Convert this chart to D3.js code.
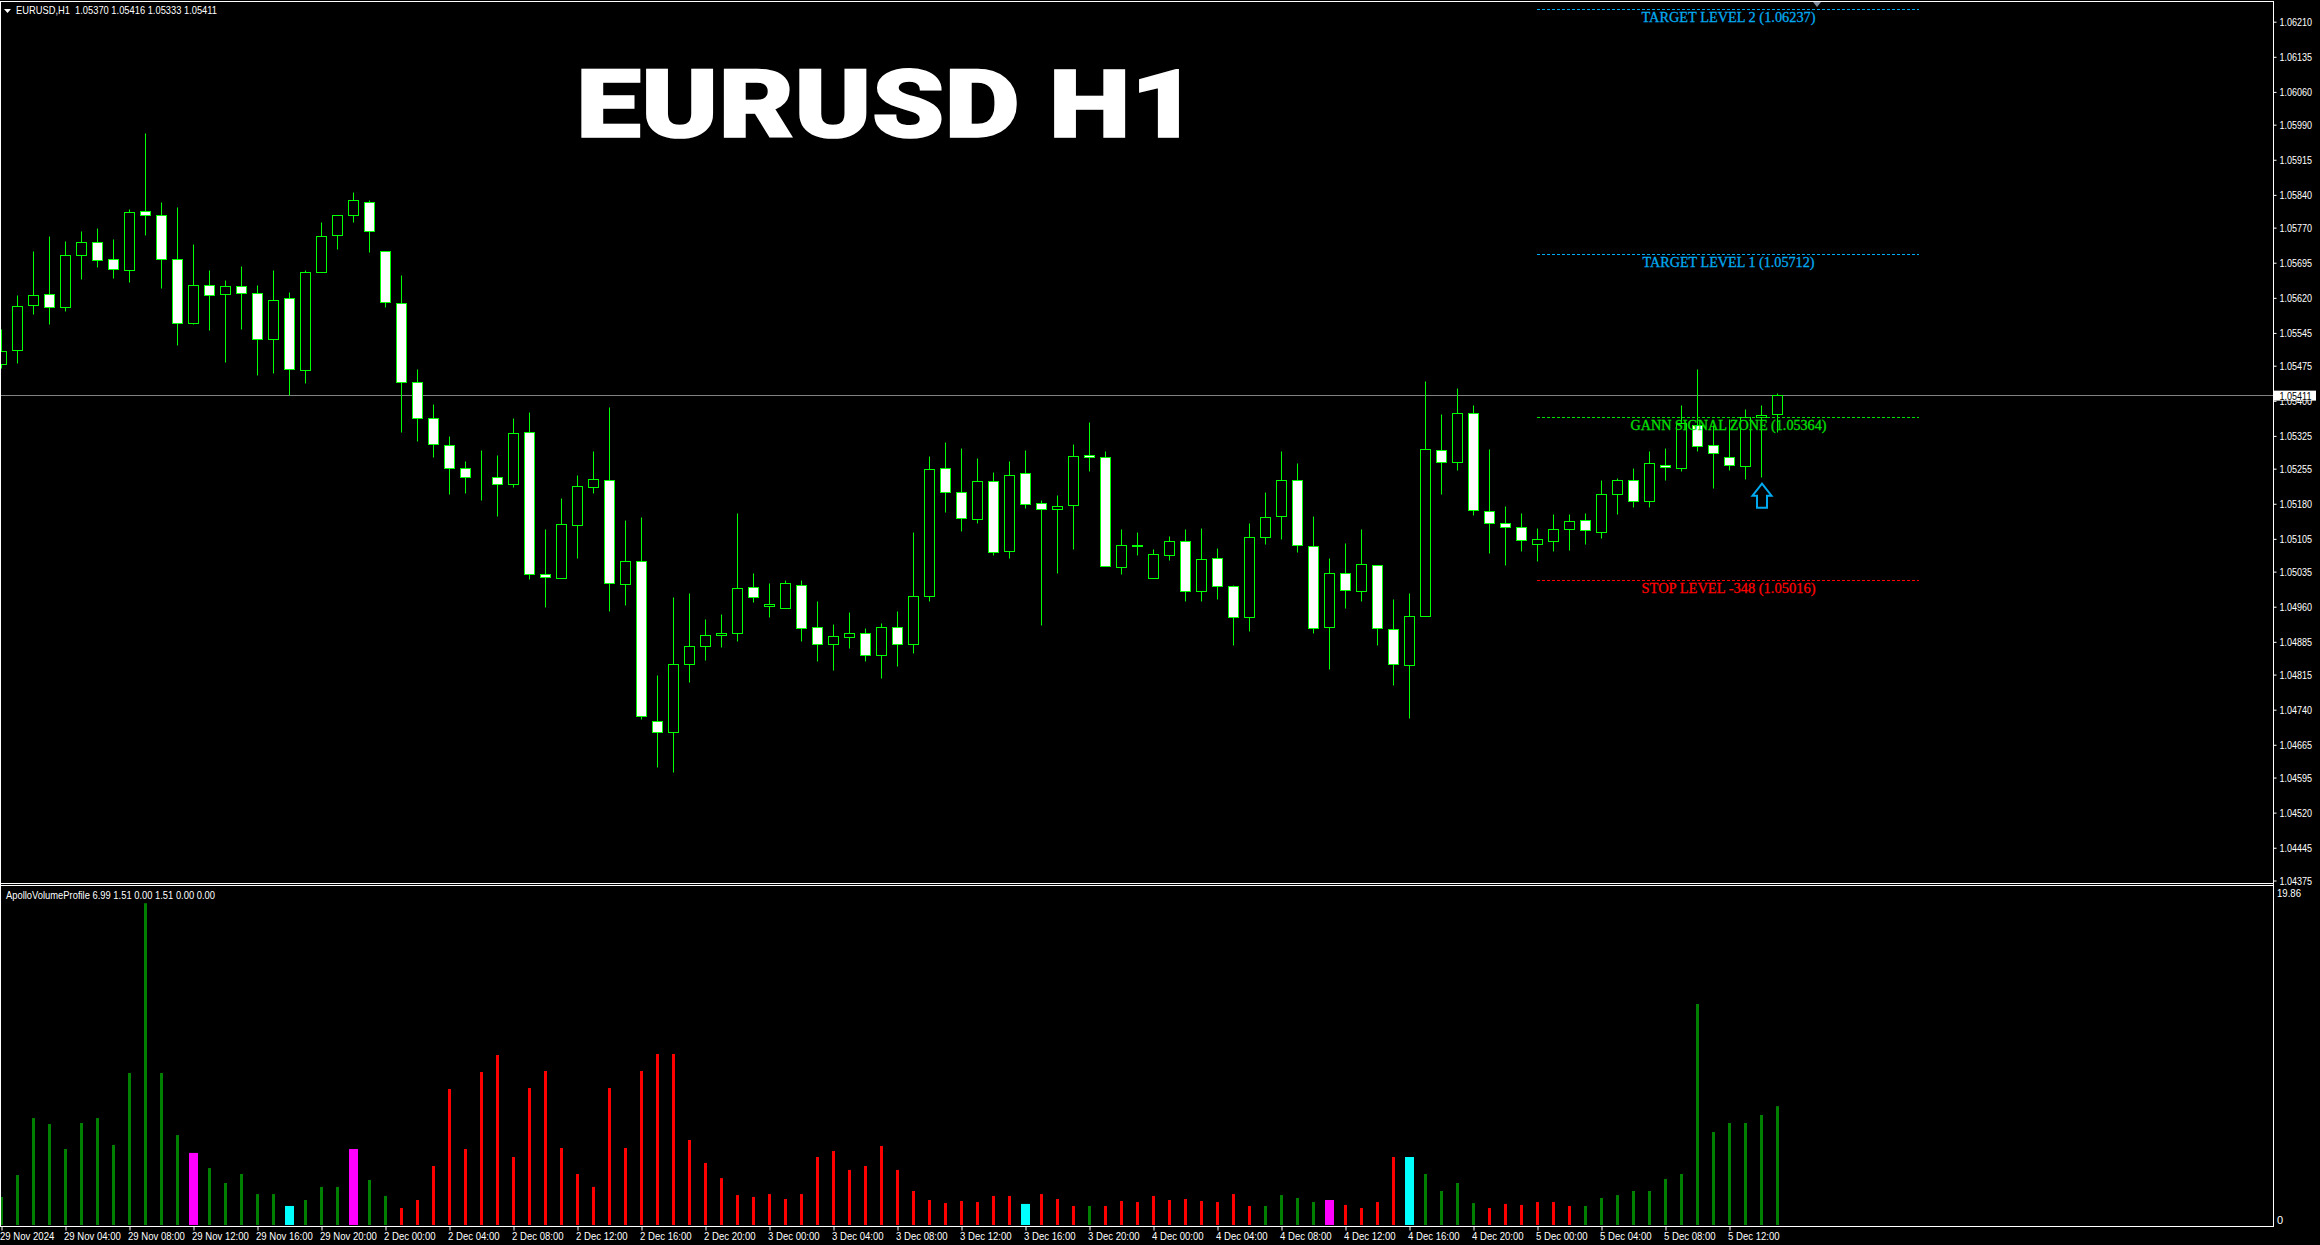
<!DOCTYPE html>
<html><head><meta charset="utf-8">
<script src="https://cdnjs.cloudflare.com/ajax/libs/d3/7.8.5/d3.min.js"></script>
<style>html,body{margin:0;padding:0;background:#000;overflow:hidden}svg{display:block}
.sm{font-family:"Liberation Sans",sans-serif;font-size:11px;fill:#fff}
.lvl{font-family:"Liberation Serif",serif;font-size:15px;stroke-width:.3px}
</style></head><body><svg id="c" width="2320" height="1245"></svg>
<script>
const opens=[1.05477,1.05507,1.05604,1.05627,1.05600,1.05710,1.05739,1.05702,1.05679,1.05805,1.05796,1.05702,1.05566,1.05647,1.05627,1.05645,
1.05630,1.05531,1.05619,1.05465,1.05674,1.05754,1.05796,1.05824,1.05719,1.05608,1.05439,1.05363,1.05305,1.05256,1.05234,1.05236,
1.05221,1.05333,1.05029,1.05020,1.05133,1.05214,1.05230,1.05007,1.05057,1.04715,1.04691,1.04836,1.04875,1.04898,1.04902,1.05001,
1.04960,1.04956,1.05006,1.04916,1.04879,1.04894,1.04903,1.04855,1.04916,1.04879,1.04981,1.05256,1.05204,1.05146,1.05228,1.05078,
1.05245,1.05181,1.05167,1.05176,1.05283,1.05279,1.05043,1.05091,1.05020,1.05069,1.05100,1.04992,1.05063,1.05004,1.04937,1.05108,
1.05152,1.05230,1.05089,1.04915,1.05031,1.04992,1.05048,1.04912,1.04834,1.04939,1.05294,1.05268,1.05373,1.05164,1.05138,1.05130,
1.05092,1.05100,1.05125,1.05145,1.05119,1.05200,1.05230,1.05185,1.05262,1.05256,1.05348,1.05305,1.05279,1.05259,1.05365,1.05370];
const closes=[1.05506,1.05602,1.05625,1.05600,1.05711,1.05739,1.05700,1.05681,1.05803,1.05796,1.05702,1.05566,1.05647,1.05625,1.05645,1.05630,
1.05531,1.05615,1.05467,1.05674,1.05751,1.05796,1.05828,1.05762,1.05610,1.05439,1.05362,1.05306,1.05255,1.05236,1.05233,1.05221,
1.05330,1.05028,1.05022,1.05136,1.05217,1.05232,1.05009,1.05057,1.04725,1.04691,1.04837,1.04875,1.04899,1.04903,1.04999,1.04979,
1.04965,1.05010,1.04913,1.04879,1.04897,1.04903,1.04855,1.04916,1.04879,1.04982,1.05254,1.05204,1.05148,1.05228,1.05075,1.05241,
1.05178,1.05167,1.05174,1.05281,1.05278,1.05046,1.05091,1.05088,1.05072,1.05100,1.04992,1.05061,1.05003,1.04937,1.05108,1.05151,
1.05230,1.05090,1.04913,1.05031,1.04994,1.05051,1.04913,1.04836,1.04939,1.05296,1.05268,1.05373,1.05165,1.05137,1.05129,1.05101,
1.05104,1.05125,1.05142,1.05123,1.05200,1.05230,1.05185,1.05266,1.05258,1.05352,1.05303,1.05288,1.05262,1.05365,1.05369,1.05411];
const highs=[1.05553,1.05624,1.05720,1.05750,1.05741,1.05761,1.05769,1.05744,1.05808,1.05972,1.05823,1.05814,1.05735,1.05679,1.05658,1.05686,
1.05647,1.05679,1.05632,1.05679,1.05782,1.05796,1.05844,1.05828,1.05719,1.05667,1.05466,1.05393,1.05323,1.05271,1.05293,1.05284,
1.05363,1.05374,1.05126,1.05192,1.05241,1.05291,1.05385,1.05145,1.05150,1.04812,1.04979,1.04989,1.04932,1.04944,1.05160,1.05030,
1.05009,1.05017,1.05017,1.04972,1.04923,1.04947,1.04914,1.04925,1.04949,1.05118,1.05280,1.05310,1.05299,1.05276,1.05246,1.05271,
1.05293,1.05186,1.05197,1.05306,1.05353,1.05291,1.05126,1.05118,1.05083,1.05111,1.05124,1.05128,1.05085,1.05006,1.05137,1.05203,
1.05291,1.05267,1.05152,1.05064,1.05096,1.05124,1.05048,1.04976,1.04989,1.05442,1.05370,1.05427,1.05391,1.05295,1.05175,1.05160,
1.05128,1.05158,1.05158,1.05160,1.05229,1.05234,1.05256,1.05291,1.05299,1.05389,1.05466,1.05348,1.05359,1.05382,1.05389,1.05416];
const lows=[1.05468,1.05479,1.05585,1.05564,1.05590,1.05660,1.05684,1.05662,1.05652,1.05754,1.05639,1.05519,1.05562,1.05551,1.05481,1.05553,
1.05453,1.05459,1.05412,1.05436,1.05674,1.05724,1.05780,1.05716,1.05600,1.05333,1.05312,1.05278,1.05199,1.05201,1.05188,1.05152,
1.05214,1.05019,1.04959,1.05020,1.05062,1.05201,1.04949,1.04962,1.04720,1.04617,1.04605,1.04799,1.04846,1.04872,1.04885,1.04968,
1.04938,1.04956,1.04885,1.04842,1.04823,1.04870,1.04844,1.04806,1.04833,1.04861,1.04972,1.05162,1.05120,1.05137,1.05070,1.05062,
1.05169,1.04919,1.05032,1.05083,1.05248,1.05046,1.05028,1.05070,1.05020,1.05058,1.04972,1.04972,1.04976,1.04878,1.04908,1.05094,
1.05103,1.05075,1.04902,1.04825,1.04957,1.04972,1.04878,1.04791,1.04722,1.04939,1.05199,1.05250,1.05154,1.05073,1.05047,1.05077,
1.05056,1.05077,1.05081,1.05092,1.05105,1.05158,1.05171,1.05171,1.05229,1.05248,1.05291,1.05212,1.05250,1.05231,1.05237,1.05333];
const volumes=[1.65,2.94,6.29,5.94,4.47,6.00,6.29,4.71,8.94,18.93,8.94,5.29,4.24,3.35,2.47,3.00,1.82,1.82,1.12,1.47,2.24,2.24,4.47,2.65,
1.71,1.00,1.47,3.47,8.00,4.47,9.00,10.00,4.00,8.06,9.06,4.53,3.00,2.24,8.06,4.53,9.06,10.06,10.06,5.00,3.65,2.76,1.76,1.65,
1.82,1.53,1.82,4.00,4.35,3.24,3.47,4.65,3.24,2.00,1.47,1.29,1.41,1.35,1.71,1.71,1.24,1.82,1.53,1.12,1.12,1.12,1.41,1.35,
1.71,1.47,1.53,1.41,1.35,1.82,1.12,1.12,1.76,1.59,1.35,1.47,1.18,1.00,1.35,4.00,4.00,3.00,2.00,2.47,1.29,1.00,1.24,1.18,
1.35,1.35,1.12,1.12,1.59,1.76,2.00,2.00,2.71,3.00,13.00,5.47,6.00,6.00,6.47,6.99];
const volumeKinds=["GGGGGGGGGGGG","M","GGGGG","C","GGG","M","GG","RRRRRRRRRRRRRRRRRRRRRRRRRRRRRRRRRRRRRRR","C","RRR","G","RRRRRRRRRR","GGGG","M","RRRR","C","GGGG","RRRRRR","GGGGGGGGGGGGG"].join("").split("");
const priceTicks=[1.06210,1.06135,1.06060,1.05990,1.05915,1.05840,1.05770,1.05695,1.05620,1.05545,1.05475,1.05400,1.05325,1.05255,1.05180,1.05105,1.05035,1.04960,1.04885,1.04815,1.04740,1.04665,1.04595,1.04520,1.04445,1.04375];
const timeTickBars=d3.range(0,112,4);
const timeTickLabels=["29 Nov 2024","29 Nov 04:00","29 Nov 08:00","29 Nov 12:00","29 Nov 16:00","29 Nov 20:00","2 Dec 00:00","2 Dec 04:00","2 Dec 08:00","2 Dec 12:00","2 Dec 16:00","2 Dec 20:00","3 Dec 00:00","3 Dec 04:00","3 Dec 08:00","3 Dec 12:00","3 Dec 16:00","3 Dec 20:00","4 Dec 00:00","4 Dec 04:00","4 Dec 08:00","4 Dec 12:00","4 Dec 16:00","4 Dec 20:00","5 Dec 00:00","5 Dec 04:00","5 Dec 08:00","5 Dec 12:00"];
const levelPrices=[1.06237,1.05712,1.05364,1.05016];
const levelLabels=["TARGET LEVEL 2 (1.06237)","TARGET LEVEL 1 (1.05712)","GANN SIGNAL ZONE (1.05364)","STOP LEVEL -348 (1.05016)"];
const levelColors=["#00aaf0","#00aaf0","#00e000","#ff0000"];
const levelTextWidths=[174,172,196,174];
const lastPrice=1.05411, arrowPrice=1.05225, arrowBar=110, volumeMax=19.86;

const svg=d3.select("#c");
const AX=2273;
const x=d3.scaleLinear().domain([0,111]).range([1.5,1777.5]);
const y=d3.scaleLinear().domain([1.04375,1.06210]).range([880.5,21.7]);
const yv=d3.scaleLinear().domain([0,volumeMax]).range([1225,887.4]);
const snap=v=>Math.round(v-0.5)+0.5;
const squeeze=(sel,f)=>sel.each(function(){this.setAttribute("textLength",(this.getComputedTextLength()*f).toFixed(1));this.setAttribute("lengthAdjust","spacingAndGlyphs");});
const fit=(sel,w)=>sel.attr("textLength",w).attr("lengthAdjust","spacingAndGlyphs");
svg.append("defs").append("clipPath").attr("id","cp").append("rect").attr("x",1).attr("y",2).attr("width",AX-1).attr("height",881);
svg.append("rect").attr("width",2320).attr("height",1245).attr("fill","#000");

svg.append("line").attr("x1",1).attr("x2",AX).attr("y1",snap(y(lastPrice))).attr("y2",snap(y(lastPrice))).attr("stroke","#808080");

const g=svg.append("g").attr("clip-path","url(#cp)");
const idx=d3.range(opens.length);
g.selectAll("line.w").data(idx).join("line").attr("class","w")
 .attr("x1",i=>x(i)).attr("x2",i=>x(i)).attr("y1",i=>snap(y(highs[i]))).attr("y2",i=>snap(y(lows[i]))).attr("stroke","#00ff00");
g.selectAll("rect.b").data(idx).join("rect").attr("class","b")
 .attr("x",i=>x(i)-5).attr("width",10)
 .attr("y",i=>snap(y(Math.max(opens[i],closes[i]))))
 .attr("height",i=>snap(y(Math.min(opens[i],closes[i])))-snap(y(Math.max(opens[i],closes[i]))))
 .attr("fill",i=>closes[i]<opens[i]?"#fff":"#000").attr("stroke","#00ff00");

levelPrices.forEach((p,k)=>{
  const yy=snap(y(p));
  svg.append("line").attr("x1",1537).attr("x2",1919).attr("y1",yy).attr("y2",yy).attr("stroke",levelColors[k]).attr("stroke-dasharray","3 2");
  fit(svg.append("text").attr("class","lvl").attr("x",1728.5).attr("y",yy+12.5).attr("text-anchor","middle").attr("fill",levelColors[k]).attr("stroke",levelColors[k]).text(levelLabels[k]),levelTextWidths[k]);
});
(function(){
 const cx=x(arrowBar)+0.5, t=y(arrowPrice), p=d3.path();
 p.moveTo(cx,t+1);p.lineTo(cx+9.5,t+13);p.lineTo(cx+5,t+13);p.lineTo(cx+5,t+25);p.lineTo(cx-5,t+25);p.lineTo(cx-5,t+13);p.lineTo(cx-9.5,t+13);p.closePath();
 svg.append("path").attr("d",p.toString()).attr("fill","none").attr("stroke","#00aaf0").attr("stroke-width",2);
})();
fit(svg.append("text").attr("x",576).attr("y",137).attr("font-family","Roboto").attr("font-weight",900).attr("font-size",95).attr("fill","#fff").attr("stroke","#fff").attr("stroke-width",1.5).text("EURUSD H1"),622);
svg.append("path").attr("d","M1813,2L1821,2L1817,7Z").attr("fill","#7f8a9a");

const wide=k=>k==="M"||k==="C";
const vcol={G:"#008000",R:"#ff0000",M:"#ff00ff",C:"#00ffff"};
const g2=svg.append("g");
g2.selectAll("rect").data(idx).join("rect")
 .attr("x",i=>Math.max(1,x(i)-(wide(volumeKinds[i])?4.5:1.5)))
 .attr("width",i=>wide(volumeKinds[i])?9:(i===0?2:3))
 .attr("y",i=>yv(volumes[i])).attr("height",i=>yv(0)-yv(volumes[i]))
 .attr("fill",i=>vcol[volumeKinds[i]]);

const white=(a,b,c,d)=>svg.append("line").attr("x1",a).attr("y1",b).attr("x2",c).attr("y2",d).attr("stroke","#fff").attr("stroke-width",1);
white(0,1.5,AX+.5,1.5);white(0.5,1,0.5,1226);white(0,883.5,AX+.5,883.5);white(0,885.5,AX+.5,885.5);
white(0,1226.5,AX+.5,1226.5);white(AX+.5,1,AX+.5,1227);

const ay=svg.append("g").attr("transform",`translate(${AX+.5},0)`).call(d3.axisRight(y).tickValues(priceTicks).tickFormat(d3.format(".5f")).tickSize(3).tickPadding(3));
ay.select(".domain").remove();ay.selectAll("line").attr("stroke","#fff");
ay.attr("font-family",null).attr("font-size",null);
squeeze(ay.selectAll("text").attr("class","sm"),.82);

const ax=svg.append("g").attr("transform","translate(0,1226.5)").call(d3.axisBottom(x).tickValues(timeTickBars).tickFormat((d,i)=>timeTickLabels[i]).tickSize(4).tickPadding(2));
ax.select(".domain").remove();ax.selectAll("line").attr("stroke","#fff");
ax.attr("font-family",null).attr("font-size",null).attr("text-anchor",null);
squeeze(ax.selectAll("text").attr("class","sm").attr("text-anchor","start").attr("dx",-2),.87);

const yl=y(lastPrice);
svg.append("rect").attr("x",AX+1).attr("y",yl-5).attr("width",42).attr("height",10).attr("fill","#fff");
squeeze(svg.append("text").attr("class","sm").attr("x",AX+6.5).attr("y",yl+4).style("fill","#000").text(d3.format(".5f")(lastPrice)),.82);

const sm=(t,xx,yy)=>svg.append("text").attr("class","sm").attr("x",xx).attr("y",yy).text(t);
svg.append("path").attr("d","M4,9L11,9L7.5,13Z").attr("fill","#fff");
fit(sm("EURUSD,H1  1.05370 1.05416 1.05333 1.05411",16,14).style("white-space","pre"),201);
fit(sm("ApolloVolumeProfile 6.99 1.51 0.00 1.51 0.00 0.00",6,898.5),209);
squeeze(sm(String(volumeMax),2277,897),.87);
sm("0",2277,1224);
</script></body></html>
